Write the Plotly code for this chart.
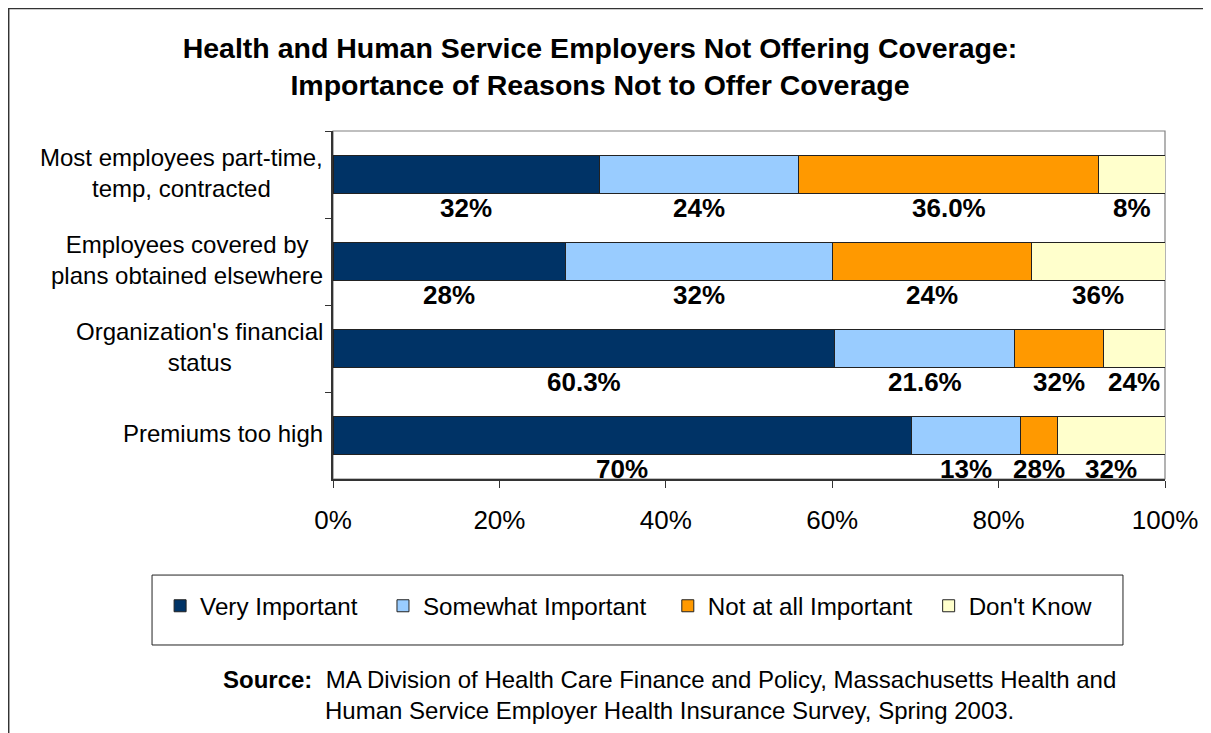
import plotly.graph_objects as go

# ---- data ----
categories = [
    "Most employees part-time,<br>temp, contracted",
    "Employees covered by<br>plans obtained elsewhere",
    "Organization's financial<br>status",
    "Premiums too high",
]
series_names = ["Very Important", "Somewhat Important", "Not at all Important", "Don't Know"]
very_important = [32, 28, 60.3, 69.5]
somewhat_important = [24, 32, 21.6, 13.1]
not_at_all_important = [36, 24, 10.7, 4.5]
dont_know = [8, 16, 7.4, 12.9]
# data labels exactly as printed on the original chart
labels_very = ["32%", "28%", "60.3%", "70%"]
labels_somewhat = ["24%", "32%", "21.6%", "13%"]
labels_not = ["36.0%", "24%", "32%", "28%"]
labels_dk = ["8%", "36%", "24%", "32%"]
x_ticks = [0, 20, 40, 60, 80, 100]
x_tick_labels = ["0%", "20%", "40%", "60%", "80%", "100%"]

colors = ["#003366", "#99CCFF", "#FF9900", "#FFFFCC"]
FONT = "Arial, Liberation Sans, sans-serif"

# figure sits at an 8px page offset
W, H = 1203, 725
L, T, PW, PH = 325, 123, 832.5, 348

series = [very_important, somewhat_important, not_at_all_important, dont_know]
labels = [labels_very, labels_somewhat, labels_not, labels_dk]
legend_ids = ["legend", "legend2", "legend3", "legend4"]

fig = go.Figure()
for name, vals, col, lid in zip(series_names, series, colors, legend_ids):
    fig.add_trace(go.Bar(
        y=categories, x=vals, name=name, orientation="h",
        marker=dict(color=col, line=dict(color="#222222", width=1)),
        legend=lid, showlegend=True, hoverinfo="x+name",
    ))

# data labels under each segment (centred on the segment)
annotations = []
for i, cat in enumerate(categories):
    cum = 0
    for vals, labs in zip(series, labels):
        centre = cum + vals[i] / 2
        cum += vals[i]
        annotations.append(dict(
            x=centre, y=cat, xref="x", yref="y", text="<b>%s</b>" % labs[i],
            showarrow=False, yshift=-33,
            font=dict(family=FONT, size=26, color="black"),
        ))

# category labels (centre-aligned lines, right-anchored block)
for cat in categories:
    annotations.append(dict(
        x=0, y=cat, xref="paper", yref="y", text=cat, showarrow=False,
        xanchor="right", align="center", xshift=-8, yshift=2,
        font=dict(family=FONT, size=24, color="black"),
    ))

# source note
annotations.append(dict(
    x=0.4045, y=-0.6207, xref="paper", yref="paper", xanchor="center", yanchor="middle",
    align="center", showarrow=False,
    text="<b>Source:</b>\u00a0\u00a0MA Division of Health Care Finance and Policy, Massachusetts Health and"
         "<br>Human Service Employer Health Insurance Survey, Spring 2003.",
    font=dict(family=FONT, size=24, color="black"),
))


def px_x(p):
    return (p - L) / PW


def px_y(p):
    return (T + PH - p) / PH


shapes = [
    # outer chart border
    dict(type="rect", xref="paper", yref="paper", x0=px_x(0.5), x1=px_x(1198), y0=px_y(800), y1=px_y(0.5),
         line=dict(color="#333333", width=1.5), layer="below"),
    # plot-area border (top/right grey)
    dict(type="rect", xref="paper", yref="paper", x0=0, x1=1, y0=0, y1=1,
         line=dict(color="#808080", width=1.2), layer="below"),
    # legend box
    dict(type="rect", xref="paper", yref="paper", x0=-0.2175, x1=0.9495, y0=-0.477, y1=-0.276,
         line=dict(color="#222222", width=1), fillcolor="rgba(0,0,0,0)", layer="below"),
]

legend_x = [(160 - 333) / 832.5, (383 - 333) / 832.5, (668 - 333) / 832.5, (929 - 333) / 832.5]
legend_common = dict(orientation="h", y=-0.365, yanchor="middle", xanchor="left",
                     bgcolor="rgba(0,0,0,0)", borderwidth=0,
                     font=dict(family=FONT, size=24.2, color="black"))

fig.update_layout(
    width=W, height=H,
    margin=dict(l=L, r=W - L - PW, t=T, b=H - T - PH, autoexpand=False),
    paper_bgcolor="white", plot_bgcolor="white",
    barmode="stack", bargap=0.56,
    title=dict(
        text="<b>Health and Human Service Employers Not Offering Coverage:<br>"
             "Importance of Reasons Not to Offer Coverage</b>",
        x=592 / W, xanchor="center", xref="container",
        y=1 - 49.5 / H, yanchor="middle", yref="container",
        font=dict(family=FONT, size=28.5, color="black"),
    ),
    xaxis=dict(range=[0, 100], tickmode="array", tickvals=x_ticks, ticktext=x_tick_labels,
               showgrid=False, zeroline=False,
               showline=True, linecolor="#333333", linewidth=1.5,
               ticks="outside", ticklen=7, tickcolor="#333333", tickwidth=1.2,
               ticklabelstandoff=10,
               tickfont=dict(family=FONT, size=26, color="black")),
    yaxis=dict(categoryorder="array", categoryarray=categories, range=[3.5, -0.5],
               showticklabels=False, showgrid=False, zeroline=False,
               showline=True, linecolor="#333333", linewidth=1.5,
               ticks="outside", tickson="boundaries", ticklen=6, tickcolor="#333333", tickwidth=1.2),
    annotations=annotations,
    shapes=shapes,
    hovermode="closest",
)
layout_legends = {}
for lid, lx in zip(legend_ids, legend_x):
    layout_legends[lid] = dict(x=lx, **legend_common)
fig.update_layout(**layout_legends)

fig.write_html("out.html")
